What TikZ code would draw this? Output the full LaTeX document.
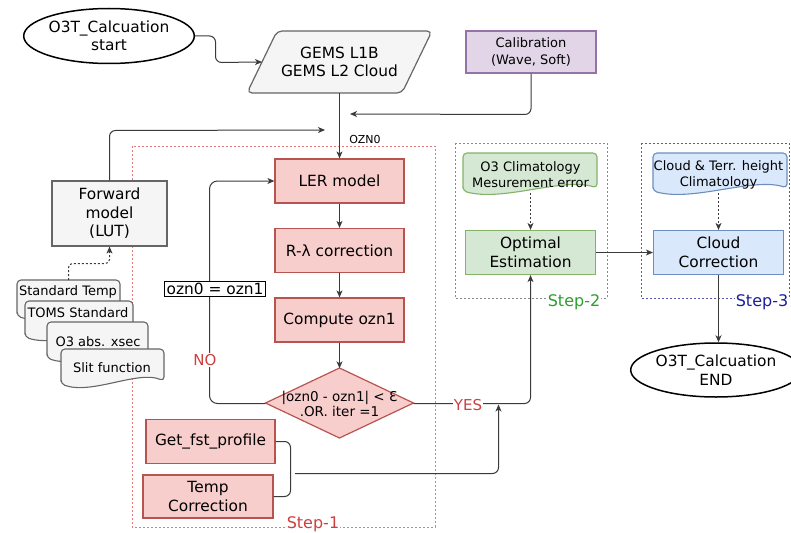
\documentclass[tikz,border=0pt]{standalone}
\usepackage{fontspec}
\setmainfont{DejaVu Sans}
\usetikzlibrary{shapes.geometric,arrows.meta,calc}
\definecolor{pinkF}{HTML}{F8CECC}
\definecolor{pinkD}{HTML}{B85450}
\definecolor{greenF}{HTML}{D5E8D4}
\definecolor{greenD}{HTML}{82B366}
\definecolor{blueF}{HTML}{DAE8FC}
\definecolor{blueD}{HTML}{6C8EBF}
\definecolor{grayF}{HTML}{F5F5F5}
\definecolor{grayD}{HTML}{666666}
\definecolor{purF}{HTML}{E1D5E7}
\definecolor{purD}{HTML}{9673A6}
\definecolor{edgeC}{HTML}{3A3A3A}
\definecolor{redT}{HTML}{CC4040}
\definecolor{greenT}{HTML}{2E9E2E}
\definecolor{blueT}{HTML}{1F1F99}
\definecolor{sOneD}{HTML}{E07A7A}
\definecolor{sTwoD}{HTML}{8A8A8A}
\definecolor{sThreeD}{HTML}{5A5AA8}
\newcommand\docshape[6]{%
  \path[draw=#6, fill=#5, line width=1.1pt, rounded corners=4pt]
    ({#1},{#4-2}) -- ({#1},{#2}) -- ({#3},{#2}) -- ({#3},{#4-5})
    .. controls ({#1+0.75*(#3-#1)},{#4-16}) and ({#1+0.3*(#3-#1)},{#4+9}) .. ({#1},{#4-2}) -- cycle;}
\begin{document}
\begin{tikzpicture}[x=1pt,y=-1pt,
  base/.style={align=center, inner sep=0pt, font=\fontsize{15.4}{18.5}\selectfont},
  pinkbox/.style={base, draw=pinkD, fill=pinkF, line width=1.2pt, minimum width=129, minimum height=44},
  greenbox/.style={base, draw=greenD, fill=greenF, line width=1.2pt, minimum width=130, minimum height=44},
  bluebox/.style={base, draw=blueD, fill=blueF, line width=1.2pt, minimum width=130, minimum height=44},
  graybox/.style={base, draw=grayD, fill=grayF, line width=1.2pt},
  ellip/.style={base, ellipse, draw=black, line width=1.5pt, fill=white},
  doctext/.style={base, font=\fontsize{13}{16}\selectfont},
  edgeS/.style={draw=edgeC, line width=1pt},
  arr/.style={-{Stealth[length=7pt,width=6pt,inset=2pt]}},
  dotline/.style={dash pattern=on 2pt off 2pt},
  steplbl/.style={fill=white, inner sep=1pt, font=\fontsize{16}{18}\selectfont},
  lbl/.style={fill=white, inner sep=1pt, font=\fontsize{15}{17}\selectfont, text=redT}
]
\useasboundingbox (0,0) rectangle (791,532);

% step frames
\draw[draw=sOneD, line width=0.9pt, dotline] (132,146) rectangle (435,527);
\draw[draw=sTwoD, line width=0.9pt, dotline] (455,143) rectangle (607,298);
\draw[draw=sThreeD, line width=0.9pt, dotline] (641,143) rectangle (789,298);
\node[steplbl, text=redT] (s1) at (313,524) {Step-1};
\node[steplbl, text=greenT] (s2) at (574,302) {Step-2};
\node[steplbl, text=blueT] (s3) at (762,302) {Step-3};

% start
\node[ellip, minimum width=148, minimum height=55] (start) at (109,36) {O3T\_Calcuation\\start};

% GEMS parallelogram
\draw[draw=grayD, fill=grayF, line width=1.2pt, rounded corners=5pt] (247,93) -- (277,31) -- (432,31) -- (402,93) -- cycle;
\node[base, minimum width=185, minimum height=62] (gems) at (339.5,62) {GEMS L1B\\GEMS L2 Cloud};
\coordinate (gemsin) at (262,62);

% Calibration
\node[base, draw=purD, fill=purF, line width=1.2pt, minimum width=130, minimum height=42,
      font=\fontsize{13}{17}\selectfont] (calib) at (531,52) {Calibration\\(Wave, Soft)};
\coordinate (calin) at (350,114);

% Forward model
\node[graybox, minimum width=115, minimum height=65] (fwd) at (109.5,213.5) {Forward\\model\\(LUT)};
\coordinate (fwdin) at (325,130);

% left document stack
\docshape{17}{280}{120}{318}{grayF}{grayD}
\node[doctext] (std) at (68,292) {Standard Temp};
\docshape{25}{301}{133}{339}{grayF}{grayD}
\node[doctext] (toms) at (78,313) {TOMS Standard};
\docshape{47}{322}{148}{360}{grayF}{grayD}
\node[doctext] (oabs) at (98,342) {O3 abs. xsec};
\docshape{61}{349}{164}{386}{grayF}{grayD}
\node[doctext] (slit) at (112,368) {Slit function};
\coordinate (stdtop) at (68.5,280);

% step 1 boxes
\node[pinkbox] (ler) at (339.5,181) {LER model};
\node[pinkbox] (rlam) at (339.5,250.5) {R-λ correction};
\node[pinkbox] (comp) at (339.5,320) {Compute ozn1};
\draw[draw=pinkD, fill=pinkF, line width=1.2pt] (265.5,403) -- (339.5,368) -- (413.5,403) -- (339.5,438) -- cycle;
\node[base, minimum width=148, minimum height=70, font=\fontsize{13.5}{15}\selectfont] (cond) at (339.5,403.5) {|ozn0 - ozn1| < ℇ\\.OR. iter =1};
\node[pinkbox] (getfst) at (210.5,441.5) {Get\_fst\_profile};
\node[pinkbox, minimum width=130, minimum height=43] (temp) at (208,496.5) {Temp\\Correction};
\coordinate (brk) at (295,473.5);
\coordinate (yesj) at (498.5,404.5);

% step 2
\docshape{463}{153}{597}{193}{greenF}{greenD}
\node[doctext, minimum width=134, minimum height=36] (o3c) at (530.5,175) {O3 Climatology\\Mesurement error};
\node[greenbox] (opt) at (530.5,252.5) {Optimal\\Estimation};

% step 3
\docshape{653}{153}{787}{193}{blueF}{blueD}
\node[doctext, minimum width=134, minimum height=36] (cldc) at (718.5,175) {Cloud \& Terr. height\\Climatology};
\node[bluebox] (cc) at (718.5,252.5) {Cloud\\Correction};

% end
\node[ellip, minimum width=153, minimum height=54] (end) at (716,370) {O3T\_Calcuation\\END};

% connectors
\draw[edgeS, arr, rounded corners=6pt] (start.east) -- (215.5,36) -- (215.5,62.5) -- (gemsin);
\draw[edgeS, arr, rounded corners=6pt] (calib.south) -- (531,114.5) -- (calin);
\draw[edgeS, arr, rounded corners=6pt] (fwd.north) -- (109.5,130.5) -- (fwdin);
\draw[edgeS, arr] (gems.south) -- (ler.north);
\node[base, font=\fontsize{11}{13}\selectfont] (ozn) at (365,139) {OZN0};
\draw[edgeS, arr] (ler.south) -- (rlam.north);
\draw[edgeS, arr] (rlam.south) -- (comp.north);
\draw[edgeS, arr] (comp.south) -- (cond.north);
\draw[edgeS, arr, rounded corners=8pt] (cond.west) -- (209.5,403.5) -- (209.5,181) -- (ler.west);
\node[lbl] (no) at (205,360) {NO};
\node[base, draw=black, fill=white, line width=0.8pt, inner xsep=2pt, inner ysep=2pt] (eq) at (215,289) {ozn0 = ozn1};
\draw[edgeS, arr, rounded corners=6pt] (cond.east) -| (opt.south);
\node[lbl] (yes) at (468,405) {YES};
\draw[edgeS, rounded corners=6pt] (getfst.east) -- (290.5,441.5) -- (290.5,496.5) -- (temp.east);
\draw[edgeS, arr, rounded corners=6pt] (brk) -- (498.5,473.5) -- (yesj);
\draw[edgeS, arr, dotline, rounded corners=4pt] (stdtop) -- (68.5,263.5) -- (109.5,263.5) -- (fwd.south);
\draw[edgeS, arr, dotline] (o3c.south) -- (opt.north);
\draw[edgeS, arr, dotline] (cldc.south) -- (cldc.south |- cc.north);
\draw[edgeS, arr] (opt.east) -- (cc.west);
\draw[edgeS, arr] (cc.south) -- (cc.south |- end.north);
\end{tikzpicture}
\end{document}
